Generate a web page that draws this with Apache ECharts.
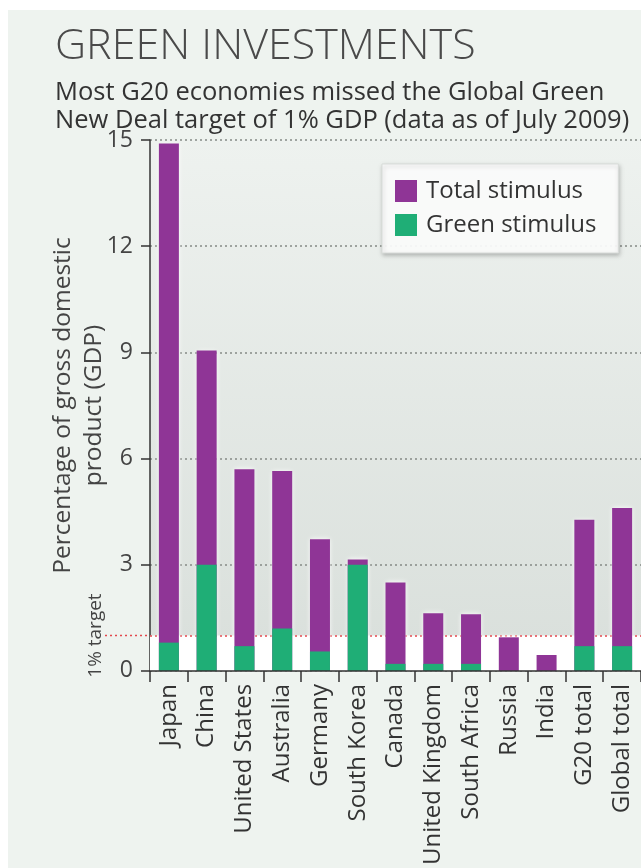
<!DOCTYPE html>
<html>
<head>
<meta charset="utf-8">
<script src="https://cdn.jsdelivr.net/npm/echarts@6/dist/echarts.min.js"></script>
<style>
    html, body {margin: 0; padding: 0; background: #fff;}
    #main {width: 641px; height: 868px;}
</style>
</head>
<body>
<div id="main"></div>
<script>
    // data (% of GDP)
    const categories = ['Japan', 'China', 'United States', 'Australia', 'Germany', 'South Korea', 'Canada',
        'United Kingdom', 'South Africa', 'Russia', 'India', 'G20 total', 'Global total'];
    const totalStimulus = [14.9, 9.05, 5.7, 5.65, 3.72, 3.15, 2.5, 1.63, 1.6, 0.95, 0.45, 4.27, 4.6];
    const greenStimulus = [0.8, 3.0, 0.7, 1.2, 0.55, 3.0, 0.2, 0.2, 0.2, 0, 0, 0.7, 0.7];
    const yTicks = [0, 3, 6, 9, 12, 15];
    const target = 1;

    const FONT = '"Open Sans", "Liberation Sans", sans-serif';
    const PURPLE = '#8f3596';
    const GREEN = '#1fae76';

    const myChart = echarts.init(document.getElementById('main'), null, {renderer: 'canvas'});

    const option = {
        backgroundColor: '#fff',
        textStyle: {fontFamily: FONT},
        title: {
            text: 'GREEN INVESTMENTS',
            subtext: 'Most G20 economies missed the Global Green\nNew Deal target of 1% GDP (data as of July 2009)',
            left: 50,
            top: 20,
            itemGap: 11,
            textStyle: {fontFamily: FONT, fontSize: 43, fontWeight: 300, color: '#4a4a4a'},
            subtextStyle: {fontFamily: FONT, fontSize: 25.5, color: '#333', lineHeight: 28}
        },
        legend: {
            data: ['Total stimulus', 'Green stimulus'],
            orient: 'vertical',
            left: 382,
            top: 164,
            padding: [15, 22, 16, 13],
            itemGap: 10,
            itemWidth: 22,
            itemHeight: 22,
            icon: 'rect',
            backgroundColor: 'rgba(255,255,255,0.92)',
            borderColor: '#d8dcd9',
            borderWidth: 1,
            shadowColor: 'rgba(0,0,0,0.25)',
            shadowBlur: 4,
            shadowOffsetX: 1,
            shadowOffsetY: 2,
            textStyle: {fontFamily: FONT, fontSize: 24, color: '#333', padding: [0, 0, 0, 4]}
        },
        grid: {
            left: 150,
            top: 140,
            width: 498,
            height: 532,
            show: true,
            borderWidth: 0,
            backgroundColor: new echarts.graphic.LinearGradient(0, 0, 0, 1, [
                {offset: 0, color: '#eef2ef'},
                {offset: 1, color: '#d9dfdb'}
            ])
        },
        xAxis: {
            type: 'category',
            data: categories,
            z: 3,
            axisLine: {lineStyle: {color: '#333', width: 1.5}},
            axisTick: {show: true, length: 11, lineStyle: {color: '#333', width: 1.5}},
            axisLabel: {rotate: 90, fontSize: 24, color: '#333', margin: 13, fontFamily: FONT}
        },
        yAxis: {
            type: 'value',
            min: 0,
            max: 15,
            interval: 3,
            name: 'Percentage of gross domestic\nproduct (GDP)',
            nameLocation: 'middle',
            nameGap: 40,
            nameMoveOverlap: false,
            nameTextStyle: {fontFamily: FONT, fontSize: 24.5, color: '#444', lineHeight: 31},
            axisLine: {show: true, lineStyle: {color: '#333', width: 1.5}},
            axisTick: {show: true, length: 9, lineStyle: {color: '#333', width: 1.5}},
            axisLabel: {
                fontSize: 23, color: '#444', margin: 17, fontFamily: FONT,
                formatter: function (v) {
                    return yTicks.indexOf(v) >= 0 ? String(v) : '';
                }
            },
            splitLine: {show: true, lineStyle: {color: '#858a87', width: 1.5, type: [2, 3]}}
        },
        series: [{
            name: 'Total stimulus',
            type: 'bar',
            data: totalStimulus,
            barWidth: 20,
            barGap: '-100%',
            itemStyle: {
                color: PURPLE,
                shadowColor: 'rgba(255,255,255,1)',
                shadowBlur: 5
            },
            markArea: {
                silent: true,
                z: 1,
                itemStyle: {color: '#ffffff'},
                data: [[{yAxis: 0}, {yAxis: target}]]
            },
            markLine: {
                silent: true,
                z: 1,
                symbol: 'none',
                label: {show: false},
                lineStyle: {color: '#e2474d', type: [2, 3], width: 1.5},
                data: [{yAxis: target}]
            }
        }, {
            name: 'Green stimulus',
            type: 'bar',
            data: greenStimulus,
            barWidth: 20,
            barGap: '-100%',
            itemStyle: {color: GREEN}
        }]
    };

    myChart.setOption(option);

    // 1% target marker to the left of the axis
    const yTarget = myChart.convertToPixel({yAxisIndex: 0}, target);
    const xAxisLeft = myChart.convertToPixel({xAxisIndex: 0}, 0) - 19;
    myChart.setOption({
        graphic: [{
            type: 'rect',
            z: -10,
            silent: true,
            shape: {x: 8, y: 10, width: 641, height: 868},
            style: {fill: '#eef3ef'}
        }, {
            type: 'line',
            silent: true,
            shape: {x1: 105, y1: yTarget, x2: xAxisLeft, y2: yTarget},
            style: {stroke: '#e2474d', lineWidth: 1.5, lineDash: [2, 3]}
        }, {
            type: 'text',
            silent: true,
            x: 96,
            y: yTarget,
            rotation: Math.PI / 2,
            style: {
                text: '1% target',
                font: '19px "Open Sans", "Liberation Sans", sans-serif',
                fill: '#444',
                align: 'center',
                verticalAlign: 'middle'
            }
        }]
    });
</script>
</body>
</html>
